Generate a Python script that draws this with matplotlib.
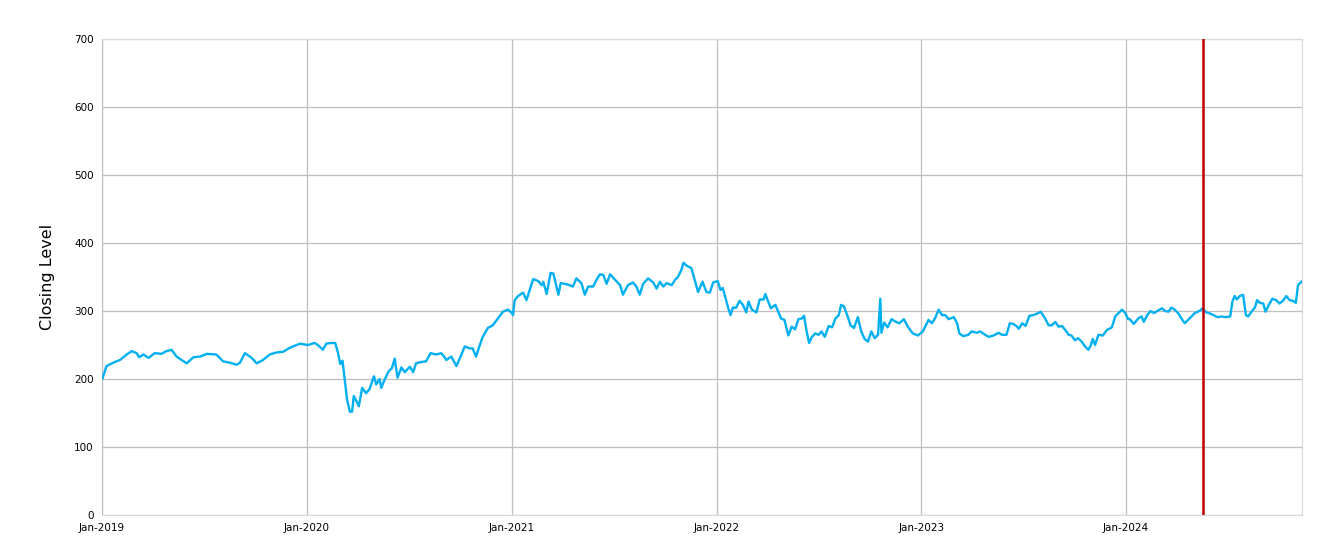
#plots closing level over time with a marker line

import pandas as pd
import matplotlib.pyplot as plt
import matplotlib.dates as mdates

dates = [
    '2019-01-02', '2019-01-09', '2019-01-21', '2019-02-02', '2019-02-14', '2019-02-23', '2019-03-04', '2019-03-08',
    '2019-03-16', '2019-03-25', '2019-04-05', '2019-04-17', '2019-04-26', '2019-05-05', '2019-05-14', '2019-06-01',
    '2019-06-13', '2019-06-25', '2019-07-07', '2019-07-24', '2019-08-05', '2019-08-17', '2019-08-29', '2019-09-04',
    '2019-09-13', '2019-09-25', '2019-10-04', '2019-10-15', '2019-10-27', '2019-11-08', '2019-11-20', '2019-12-02',
    '2019-12-20',
    '2020-01-03', '2020-01-15', '2020-01-21', '2020-01-30', '2020-02-05', '2020-02-14', '2020-02-21', '2020-02-26',
    '2020-03-01', '2020-03-05', '2020-03-09', '2020-03-13', '2020-03-18', '2020-03-22', '2020-03-25', '2020-03-30',
    '2020-04-03', '2020-04-09', '2020-04-16', '2020-04-22', '2020-04-30', '2020-05-04', '2020-05-10', '2020-05-13',
    '2020-05-19', '2020-05-26', '2020-06-01', '2020-06-06', '2020-06-11', '2020-06-18', '2020-06-24', '2020-07-03',
    '2020-07-09', '2020-07-14', '2020-07-23', '2020-08-01', '2020-08-09', '2020-08-19', '2020-08-28', '2020-09-02',
    '2020-09-06', '2020-09-15', '2020-09-24', '2020-10-03', '2020-10-09', '2020-10-18', '2020-10-23', '2020-10-29',
    '2020-11-04', '2020-11-10', '2020-11-19', '2020-11-28', '2020-12-07', '2020-12-16', '2020-12-25',
    '2021-01-01', '2021-01-03', '2021-01-06', '2021-01-12', '2021-01-21', '2021-01-27', '2021-02-08', '2021-02-17',
    '2021-02-23', '2021-02-26', '2021-03-04', '2021-03-11', '2021-03-16', '2021-03-20', '2021-03-25', '2021-03-29',
    '2021-04-05', '2021-04-14', '2021-04-20', '2021-04-26', '2021-05-05', '2021-05-11', '2021-05-17', '2021-05-26',
    '2021-06-01', '2021-06-07', '2021-06-13', '2021-06-19', '2021-06-25', '2021-07-04', '2021-07-13', '2021-07-18',
    '2021-07-27', '2021-08-05', '2021-08-11', '2021-08-17', '2021-08-23', '2021-09-01', '2021-09-10', '2021-09-16',
    '2021-09-22', '2021-09-28', '2021-10-04', '2021-10-13', '2021-10-19', '2021-10-24', '2021-10-30', '2021-11-03',
    '2021-11-08', '2021-11-17', '2021-11-23', '2021-11-29', '2021-12-07', '2021-12-14', '2021-12-20', '2021-12-26',
    '2022-01-03', '2022-01-08', '2022-01-12', '2022-01-18', '2022-01-22', '2022-01-26', '2022-01-30', '2022-02-05',
    '2022-02-11', '2022-02-17', '2022-02-23', '2022-02-27', '2022-03-05', '2022-03-13', '2022-03-19', '2022-03-26',
    '2022-03-29', '2022-04-02', '2022-04-08', '2022-04-16', '2022-04-21', '2022-04-26', '2022-05-02', '2022-05-09',
    '2022-05-15', '2022-05-21', '2022-05-27', '2022-06-02', '2022-06-06', '2022-06-10', '2022-06-15', '2022-06-20',
    '2022-06-26', '2022-07-02', '2022-07-07', '2022-07-13', '2022-07-20', '2022-07-26', '2022-08-01', '2022-08-07',
    '2022-08-11', '2022-08-16', '2022-08-22', '2022-08-28', '2022-09-03', '2022-09-10', '2022-09-16', '2022-09-22',
    '2022-09-28', '2022-10-04', '2022-10-10', '2022-10-16', '2022-10-20', '2022-10-22', '2022-10-27', '2022-11-02',
    '2022-11-09', '2022-11-17', '2022-11-23', '2022-12-01', '2022-12-08', '2022-12-17', '2022-12-26',
    '2023-01-04', '2023-01-08', '2023-01-14', '2023-01-20', '2023-01-26', '2023-02-01', '2023-02-07', '2023-02-13',
    '2023-02-19', '2023-02-28', '2023-03-06', '2023-03-10', '2023-03-17', '2023-03-26', '2023-04-01', '2023-04-10',
    '2023-04-16', '2023-04-25', '2023-05-01', '2023-05-10', '2023-05-19', '2023-05-25', '2023-06-02', '2023-06-08',
    '2023-06-14', '2023-06-21', '2023-06-24', '2023-06-30', '2023-07-06', '2023-07-13', '2023-07-20', '2023-07-29',
    '2023-08-02', '2023-08-10', '2023-08-16', '2023-08-22', '2023-08-28', '2023-09-03', '2023-09-09', '2023-09-15',
    '2023-09-21', '2023-09-26', '2023-10-02', '2023-10-08', '2023-10-14', '2023-10-20', '2023-10-26', '2023-10-30',
    '2023-11-03', '2023-11-07', '2023-11-13', '2023-11-21', '2023-11-28', '2023-12-07', '2023-12-13', '2023-12-19',
    '2023-12-25', '2023-12-31',
    '2024-01-05', '2024-01-08', '2024-01-15', '2024-01-23', '2024-01-29', '2024-02-02', '2024-02-08', '2024-02-14',
    '2024-02-20', '2024-02-28', '2024-03-05', '2024-03-11', '2024-03-17', '2024-03-22', '2024-03-28', '2024-04-03',
    '2024-04-09', '2024-04-15', '2024-04-21', '2024-04-27', '2024-05-03', '2024-05-11', '2024-05-17', '2024-05-23',
    '2024-05-28', '2024-06-05', '2024-06-12', '2024-06-20', '2024-06-27', '2024-07-05', '2024-07-09', '2024-07-13',
    '2024-07-17', '2024-07-22', '2024-07-28', '2024-08-02', '2024-08-06', '2024-08-12', '2024-08-18', '2024-08-22',
    '2024-08-27', '2024-09-02', '2024-09-06', '2024-09-12', '2024-09-18', '2024-09-25', '2024-10-01', '2024-10-07',
    '2024-10-13', '2024-10-19', '2024-10-25', '2024-10-30', '2024-11-03', '2024-11-09',
]

closing = [
    201, 219, 224, 228, 236, 241, 238, 232, 236, 231, 238, 237, 241, 243, 233, 223,
    232, 233, 237, 236, 226, 224, 221, 224, 238, 231, 223, 228, 236, 239, 240, 246,
    252,
    250, 253, 250, 243, 252, 253, 253, 238, 222, 227, 199, 170, 152, 152, 175, 167,
    160, 187, 179, 185, 204, 192, 200, 187, 199, 211, 216, 230, 202, 217, 210, 218,
    210, 223, 225, 226, 238, 236, 238, 233, 228, 233, 219, 236, 248, 245, 245, 233,
    248, 262, 275, 279, 289, 299, 302,
    297, 294, 316, 322, 327, 316, 347, 344, 338, 343, 325, 356, 355, 341, 324, 341,
    340, 338, 336, 348, 341, 324, 336, 336, 346, 354, 353, 340, 354, 346, 338, 324,
    338, 342, 336, 324, 340, 348, 342, 333, 343, 336, 341, 338, 346, 350, 360, 371,
    367, 363, 346, 328, 343, 328, 327, 342,
    344, 331, 334, 316, 304, 294, 305, 305, 315, 309, 298, 314, 302, 298, 317, 317,
    325, 316, 304, 309, 299, 289, 287, 264, 277, 273, 288, 289, 293, 273, 253, 262,
    267, 265, 270, 262, 278, 276, 289, 294, 309, 307, 294, 279, 275, 291, 270, 259,
    255, 270, 260, 265, 318, 268, 283, 276, 288, 284, 282, 288, 277, 267, 264,
    270, 277, 287, 282, 290, 302, 294, 294, 288, 291, 282, 267, 263, 265, 270, 268,
    270, 265, 262, 264, 268, 265, 265, 282, 281, 277, 274, 282, 278, 293, 294, 297,
    299, 289, 279, 279, 284, 277, 278, 272, 265, 264, 257, 260, 255, 248, 243, 249,
    259, 250, 265, 264, 272, 276, 292, 297, 302, 297,
    288, 288, 281, 289, 292, 284, 294, 300, 297, 301, 304, 300, 299, 305, 302, 297,
    289, 282, 287, 292, 297, 300, 304, 298, 297, 294, 291, 292, 291, 292, 314, 322,
    317, 322, 324, 294, 292, 299, 305, 316, 312, 311, 299, 309, 318, 316, 311, 315,
    322, 316, 315, 312, 338, 343,
]

marker_date = '2024-05-17'
year_ticks = ['2019-01-01', '2020-01-01', '2021-01-01', '2022-01-01', '2023-01-01', '2024-01-01']

df = pd.DataFrame({'close': closing}, index=pd.to_datetime(dates))

fig = plt.figure(figsize=(13.28, 5.59), dpi=100)
ax = fig.add_axes([0.0768, 0.0787, 0.9036, 0.8515])

ax.plot(df.index, df['close'], color='#00B0F0', linewidth=1.7, zorder=3)
ax.axvline(pd.Timestamp(marker_date), color='#C00000', linewidth=1.8, zorder=4)

ax.set_xlim(pd.Timestamp('2019-01-01'), pd.Timestamp('2024-11-10'))
ax.set_ylim(0, 700)
ax.set_yticks(range(0, 701, 100))
ax.set_xticks(pd.to_datetime(year_ticks))
ax.xaxis.set_major_formatter(mdates.DateFormatter('%b-%Y'))

#light excel style grid
ax.grid(True, color='#BFBFBF', linewidth=0.9)
ax.set_axisbelow(True)
for side in ['left', 'right', 'top', 'bottom']:
    ax.spines[side].set_color('#D9D9D9')
ax.spines['left'].set_color('#BFBFBF')
ax.tick_params(length=0, labelsize=7.5, colors='black', pad=6)

ax.set_ylabel('Closing Level', fontsize=11.5, labelpad=14)

fig.savefig('out.png', dpi=100)
